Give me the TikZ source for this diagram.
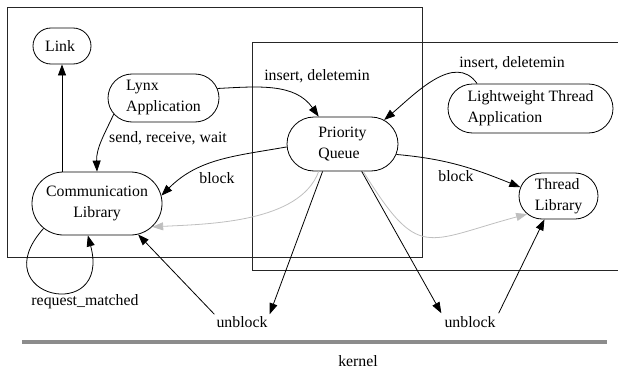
\documentclass[tikz,border=0pt]{standalone}
\usepackage{fontspec}
\setmainfont{Liberation Serif}
\usetikzlibrary{arrows.meta,shapes.misc}

\begin{document}
\begin{tikzpicture}[x=1pt,y=1pt,font=\fontsize{15.8}{21}\selectfont]
% line width of everything
\def\lw{0.8pt}
% node style definition
\tikzstyle{pill} = [
	draw, rounded rectangle, inner sep=0pt, align=left, line width=\lw ];
\tikzstyle{plain} = [draw=none,fill=none,inner sep=2pt];
\tikzstyle{edge} = [line width=\lw, -{Triangle[length=11pt,width=8pt]}];
\tikzstyle{weak} = [edge, draw=black!25];
\useasboundingbox (0,0) rectangle (618,-369);

% the two address spaces
\draw[line width=\lw, black!85] (7,-7) rectangle (422,-257);
\draw[line width=\lw, black!85] (618,-42) -- (252,-42) -- (252,-270) -- (618,-270);
% kernel bar
\draw[line width=4pt, black!45] (22,-342) -- (607,-342);

% processes
\node[pill, minimum width=58pt, minimum height=36pt] (link) at (62,-46) { Link };
\node[pill, minimum width=111pt, minimum height=48pt] (lynx) at (163.5,-98) { Lynx\\Application };
\node[pill, align=center, minimum width=130pt, minimum height=63pt] (comm) at (97,-203.5) { Communication\\Library };
\node[pill, minimum width=111pt, minimum height=54pt] (pq) at (342.5,-144) { Priority\\Queue };
\node[pill, minimum width=165pt, minimum height=49pt] (lwt) at (530.5,-108.5) { Lightweight Thread\\Application };
\node[pill, minimum width=79pt, minimum height=46pt] (tlib) at (558.5,-196) { Thread\\Library };

% labels
\node[plain] (ins1) at (317,-76) { insert, deletemin };
\node[plain] (ins2) at (512,-63) { insert, deletemin };
\node[plain] (srw) at (168,-138) { send, receive, wait };
\node[plain] (blk1) at (217,-178) { block };
\node[plain] (blk2) at (456,-176) { block };
\node[plain] (reqm) at (85,-302) { request\_matched };
\node[plain] (ub1) at (242,-322) { unblock };
\node[plain, inner sep=3pt] (ub2) at (470,-322) { unblock };
\node[plain] (kern) at (358,-361) { kernel };

% calls
\draw[edge] (comm.north -| link.south) -- (link.south);
\draw[edge] (lynx.198) to[out=-115,in=92] (comm.north);
\draw[edge] (lynx.10) to[out=3,in=125] (pq.131);
\draw[edge] (lwt.155) to[out=125,in=40] (pq.30);
\draw[edge] (pq.183) to[out=190,in=45] (comm.7);
\draw[edge] (pq.349) to[out=-5,in=158] (tlib.167);
\draw[weak] (pq.229) to[out=-110,in=3,looseness=0.8] (comm.337);
\draw[weak] (pq.307) to[out=-58,in=195,looseness=1.6] (tlib.210);
\draw[edge] (pq.234) -- (ub1.north east);
\draw[edge] (pq.305) -- (ub2.north west);
\draw[edge] (ub1.north west) -- (comm.323);
\draw[edge] (ub2.north east) -- (tlib.239);
\draw[edge] (comm.205) to[out=228,in=-75,looseness=5.3] (comm.254);

\end{tikzpicture}
\end{document}
